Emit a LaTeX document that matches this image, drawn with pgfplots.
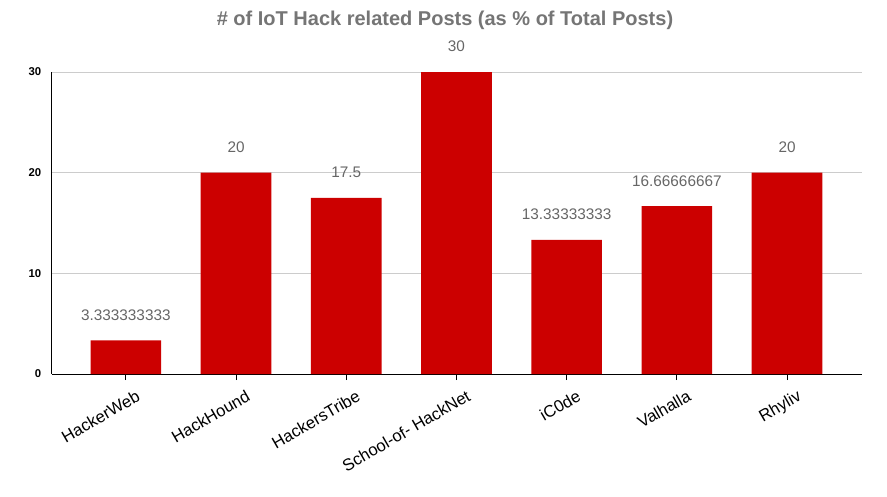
\documentclass[border=0pt]{standalone}
\usepackage{fontspec}
\setmainfont{Liberation Sans}
\usepackage{pgfplots}
\usepackage{pgfplotstable}
\pgfplotsset{compat=1.18}

\definecolor{barred}{HTML}{CC0000}
\definecolor{titlegray}{HTML}{757575}
\definecolor{labgray}{HTML}{666666}
\definecolor{gridgray}{HTML}{CCCCCC}

% share of IoT hack posts per forum
\pgfplotstableread{
x y lab
0 3.333333333 3.333333333
1 20 20
2 17.5 17.5
3 30 30
4 13.33333333 13.33333333
5 16.66666667 16.66666667
6 20 20
}\posts

\begin{document}
\begin{tikzpicture}
\path[use as bounding box] (-39pt,-91.5pt) rectangle (626.25pt,280.5pt);
\begin{axis}[
    scale only axis,
    width=607.5pt,
    height=226.5pt,
    ybar,
    bar width=53pt,
    xmin=-0.67, xmax=6.68,
    ymin=0, ymax=30,
    xtick=data,
    xticklabels={HackerWeb, HackHound, HackersTribe, School-of- HackNet, iC0de, Valhalla, Rhyliv},
    ytick={0,10,20,30},
    axis x line*=bottom,
    axis y line*=left,
    axis line style={black, line width=0.75pt},
    tick align=outside,
    major tick length=4.5pt,
    xtick style={black, line width=0.75pt},
    ytick style={draw=none},
    ymajorgrids,
    grid style={gridgray, line width=0.75pt},
    /pgf/number format/assume math mode=true,
    yticklabel style={font=\bfseries\fontsize{8.5}{10}\selectfont},
    xticklabel style={font=\fontsize{12.5}{14}\selectfont, rotate=30, anchor=north east, xshift=6pt, yshift=-6pt},
    title={\# of IoT Hack related Posts (as \% of Total Posts)},
    title style={font=\bfseries\fontsize{15}{17}\selectfont, text=titlegray, at={(0.5,1)}, anchor=center, xshift=-9pt, yshift=33pt},
    point meta=explicit symbolic,
    nodes near coords={\pgfplotspointmeta},
    every node near coord/.append style={font=\fontsize{11.5}{13}\selectfont, text=labgray, anchor=center, yshift=19pt},
]
\addplot[fill=barred, draw=none] table[x=x, y=y, meta=lab] {\posts};
\end{axis}
\end{tikzpicture}
\end{document}
